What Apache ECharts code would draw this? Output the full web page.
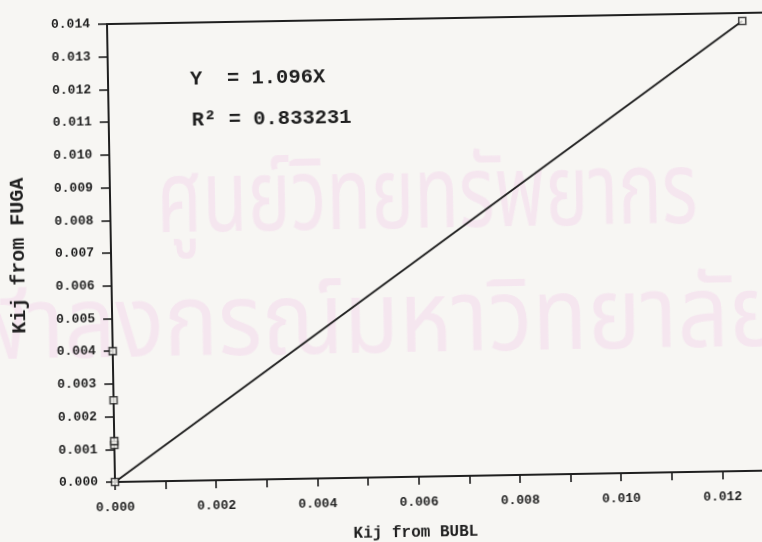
<!DOCTYPE html>
<html>
<head>
<meta charset="utf-8">
<script src="https://cdn.jsdelivr.net/npm/echarts@6/dist/echarts.min.js"></script>
<style>
  html, body { margin: 0; padding: 0; width: 762px; height: 542px; overflow: hidden; background: #f7f6f3; }
  #chart { position: absolute; left: 0; top: 0; width: 780px; height: 560px;
           transform: rotate(-1deg); transform-origin: 115px 482px; }
</style>
</head>
<body>
<div id="chart"></div>
<script>
// Kij values: BUBL (x) against FUGA (y)
const bublKij = [0, 0, 0, 0, 0, 0.01255];
const fugaKij = [0, 0.00113, 0.00125, 0.0025, 0.004, 0.013755];

// Regression through the origin
const fitSlope = 1.096;
const rSquared = '0.833231';

// Axis ranges and tick steps
const xRange = [0, 0.013];
const yRange = [0, 0.014];
const tickStep = 0.001;

const xTitle = 'Kij from BUBL';
const yTitle = 'Kij from FUGA';
const watermarkLines = ['ศูนย์วิทยทรัพยากร', 'จุฬาลงกรณ์มหาวิทยาลัย'];

const ink = '#1f1f1f';
const paper = '#f7f6f3';
const mono = "'Liberation Mono', 'Courier New', monospace";
const thaiFont = "100px 'Noto Sans Thai', 'Loma', 'Garuda', sans-serif";

const points = bublKij.map((x, i) => [x, fugaKij[i]]);
const xFitEnd = Math.max(...bublKij);
const fitLine = [[0, 0], [xFitEnd, fitSlope * xFitEnd]];

const chart = echarts.init(document.getElementById('chart'), null, { renderer: 'canvas' });

chart.setOption({
  backgroundColor: 'transparent',
  animation: false,
  grid: { left: 115, top: 24, right: 7, bottom: 78, containLabel: false },
  xAxis: [{
    type: 'value', min: xRange[0], max: xRange[1], interval: tickStep,
    axisLine: { show: true, onZero: false, lineStyle: { color: ink, width: 2 } },
    axisTick: { show: true, inside: false, length: 8, lineStyle: { color: ink, width: 1.6 } },
    axisLabel: {
      margin: 19, color: ink, fontFamily: mono, fontWeight: 'bold', fontSize: 13,
      formatter: v => (Math.round(v / tickStep) % 2 === 0 ? v.toFixed(3) : '')
    },
    splitLine: { show: false }
  }, {
    // frame line along the top of the plot
    type: 'value', position: 'top', min: xRange[0], max: xRange[1],
    axisLine: { show: true, onZero: false, lineStyle: { color: ink, width: 2 } },
    axisTick: { show: false }, axisLabel: { show: false }, splitLine: { show: false }
  }],
  yAxis: {
    type: 'value', min: yRange[0], max: yRange[1], interval: tickStep,
    axisLine: { show: true, onZero: false, lineStyle: { color: ink, width: 2 } },
    axisTick: { show: true, inside: false, length: 9, lineStyle: { color: ink, width: 1.6 } },
    axisLabel: {
      margin: 17, color: ink, fontFamily: mono, fontWeight: 'bold', fontSize: 13,
      formatter: v => v.toFixed(3)
    },
    splitLine: { show: false }
  },
  graphic: [
    {
      type: 'text', z: -10, silent: true, x: 432, y: 213, scaleX: 0.73,
      style: { text: watermarkLines[0], font: thaiFont, fill: '#f5e6ef', align: 'center', verticalAlign: 'middle' }
    },
    {
      type: 'text', z: -10, silent: true, x: 785, y: 337, scaleX: 0.9,
      style: { text: watermarkLines[1], font: thaiFont, fill: '#f5e6ef', align: 'right', verticalAlign: 'middle' }
    },
    {
      type: 'text', x: 197, y: 81,
      style: { text: 'Y  = ' + fitSlope.toFixed(3) + 'X', font: 'bold 20.5px ' + mono,
               fill: ink, align: 'left', verticalAlign: 'middle' }
    },
    {
      type: 'text', x: 198, y: 122,
      style: { text: 'R\u00B2 = ' + rSquared, font: 'bold 20.5px ' + mono,
               fill: ink, align: 'left', verticalAlign: 'middle' }
    },
    {
      type: 'text', x: 415, y: 538,
      style: { text: xTitle, font: 'bold 16px ' + mono, fill: ink, align: 'center', verticalAlign: 'middle' }
    },
    {
      type: 'text', x: 23, y: 254, rotation: Math.PI / 2,
      style: { text: yTitle, font: 'bold 20px ' + mono, fill: ink, align: 'center', verticalAlign: 'middle' }
    }
  ],
  series: [
    {
      name: 'fit', type: 'line', xAxisIndex: 0, data: fitLine, showSymbol: false, z: 3,
      lineStyle: { color: ink, width: 2 }
    },
    {
      name: 'Kij', type: 'scatter', xAxisIndex: 0, data: points, symbol: 'rect', symbolSize: 7, z: 4,
      itemStyle: { color: paper, borderColor: ink, borderWidth: 1.6 }
    }
  ]
});
</script>
</body>
</html>
